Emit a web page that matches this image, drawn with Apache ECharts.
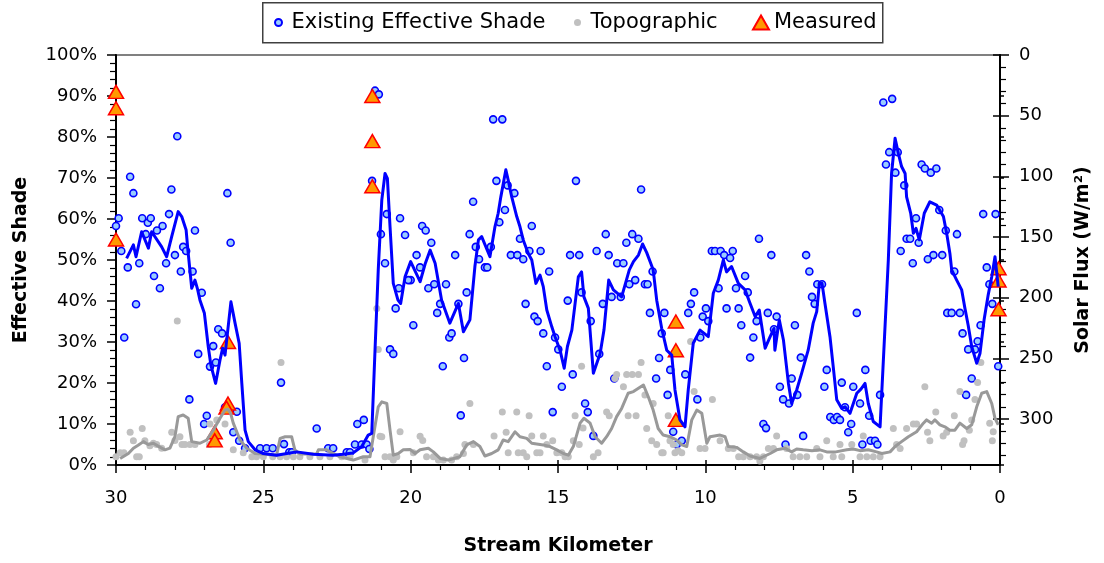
<!DOCTYPE html>
<html>
<head>
<meta charset="utf-8">
<script src="https://cdn.jsdelivr.net/npm/echarts@6/dist/echarts.min.js"></script>
<style>
  html, body { margin: 0; padding: 0; background: #fff; }
  #chart { width: 1104px; height: 563px; }
</style>
</head>
<body>
<div id="chart"></div>
<script>
// Tick values for the three axes
const kmTicks = [0, 5, 10, 15, 20, 25, 30];
const shadeTicks = [0, 10, 20, 30, 40, 50, 60, 70, 80, 90, 100];
const fluxTicks = [0, 50, 100, 150, 200, 250, 300];
const fluxMinorTicks = [10, 20, 30, 40, 60, 70, 80, 90, 110, 120, 130, 140, 160, 170, 180, 190,
  210, 220, 230, 240, 260, 270, 280, 290, 310, 320, 330];
const fluxMax = 338;

// Existing effective shade, sampled points [stream km, shade %]
const effectiveShade = [
  [27.92,80.2],[29.52,70.3],[29.41,66.3],[28.12,67.2],[26.22,66.3],[29.91,60.2],[30.00,58.3],[29.11,60.2],
  [28.92,59.1],[28.82,60.2],[28.20,61.2],[28.42,58.3],[28.61,57.2],[28.99,56.3],[27.32,57.2],[29.82,52.2],
  [27.72,53.2],[27.62,52.2],[28.00,51.2],[26.11,54.2],
  [21.21,91.3],[21.08,90.4],[21.31,69.3],[20.81,61.2],[21.01,56.3],[20.36,60.2],
  [29.60,48.2],[29.21,49.2],[28.30,49.2],[28.71,46.1],[28.51,43.1],[27.80,47.2],[27.40,47.2],[27.09,42.0],
  [29.32,39.2],[29.72,31.1],[27.21,27.1],[26.70,29.0],[26.53,33.1],[26.40,32.1],[26.81,24.0],[26.61,25.0],
  [27.51,16.0],[26.92,12.0],[27.01,10.0],[26.30,14.1],[25.90,13.0],[26.02,8.0],[25.82,5.9],[25.62,4.1],
  [25.11,4.1],[24.89,4.1],[24.68,4.1],[24.30,5.1],[24.40,20.1],[23.19,8.9],[24.12,3.1],[24.03,3.1],
  [22.80,4.1],[22.63,4.1],[22.17,3.1],[22.06,3.1],[21.89,5.0],[21.66,5.0],[21.49,5.0],[21.81,10.0],
  [21.59,11.0],[21.40,3.9],
  [20.87,49.2],[20.70,28.2],[20.59,27.1],[20.51,38.2],[20.40,43.1],
  [17.20,84.3],[16.89,84.3],[17.09,69.3],[16.71,68.2],[16.48,66.3],[16.80,62.2],[16.99,59.2],[20.19,56.1],
  [19.61,58.3],[19.49,57.2],[19.30,54.2],[19.80,51.2],[18.49,51.2],[17.88,64.2],[18.00,56.3],[17.79,53.2],
  [17.28,53.2],[16.60,51.2],[16.38,51.2],[16.29,55.2],[15.89,58.3],[15.97,52.2],[15.59,52.2],[14.39,69.3],
  [14.59,51.2],[14.28,51.2],[13.69,52.2],[13.28,51.2],[13.38,56.3],[12.68,54.2],[12.48,56.3],[12.27,55.2],
  [12.18,67.2],
  [20.00,45.1],[20.08,45.1],[19.68,48.2],[19.40,43.1],[19.20,44.1],[18.80,44.1],[19.00,39.3],[19.10,37.1],
  [18.38,39.3],[18.10,42.1],[19.91,34.1],[18.69,31.1],[18.61,32.1],[18.91,24.1],[18.19,26.1],[18.30,12.1],
  [17.68,50.2],[17.48,48.2],[17.40,48.2],[16.18,50.2],[15.30,47.2],[16.10,39.3],[15.80,36.2],[15.69,35.1],
  [15.50,32.1],[15.10,31.1],[14.99,28.2],[15.38,24.1],[14.87,19.1],[14.50,22.1],[14.67,40.1],[14.20,42.1],
  [13.89,35.1],[13.60,27.1],[13.48,39.3],[13.18,41.0],[12.99,49.2],[12.78,49.2],[12.87,41.0],[12.58,44.1],
  [12.38,45.1],[12.05,44.1],[11.96,44.1],[11.79,47.2],[11.88,37.1],[11.39,37.1],[11.48,32.1],[11.57,26.1],
  [11.19,23.2],[11.67,21.1],[13.09,21.1],[11.28,17.1],[15.18,12.9],[14.08,15.0],[13.99,12.9],[13.80,7.1],
  [11.09,8.1],[10.97,5.0],
  [3.96,88.4],[3.66,89.3],[3.76,76.3],[3.47,76.3],[3.87,73.3],[3.55,71.3],[3.25,68.2],[2.66,73.3],
  [2.55,72.3],[2.35,71.3],[2.16,72.3],[2.06,62.2],[1.84,57.2],[1.46,56.3],[2.85,60.2],[3.17,55.2],
  [3.05,55.2],[2.76,54.2],[3.37,52.2],[2.45,50.2],[2.26,51.2],[1.96,51.2],[0.57,61.2],[0.15,61.2],
  [9.78,52.2],[9.67,52.2],[9.48,52.2],[9.36,51.2],[9.07,52.2],[9.16,50.5],[8.18,55.2],[7.76,51.2],
  [6.58,51.2],[2.96,49.2],
  [6.47,47.2],[6.20,44.1],[6.04,44.1],[6.38,41.0],[6.29,39.3],[8.65,46.1],[8.96,43.1],[9.55,43.1],
  [8.56,42.1],[10.38,42.1],[10.49,39.3],[10.58,37.1],[9.98,38.2],[10.09,36.2],[9.90,35.1],[9.28,38.2],
  [8.87,38.2],[8.78,34.1],[8.26,35.1],[8.37,31.1],[7.88,37.1],[7.58,36.2],[7.67,33.1],[6.96,34.1],
  [8.48,26.2],[6.76,26.2],[10.17,31.1],[10.68,22.1],[10.27,16.0],[7.47,19.1],[7.07,21.1],[7.36,16.0],
  [7.16,15.0],[6.88,17.1],[5.88,23.2],[5.37,20.1],[5.96,19.1],[4.86,37.1],[4.57,23.2],[4.98,19.1],
  [4.75,15.0],[4.07,17.1],[4.44,12.0],[5.26,14.1],[5.76,11.7],[5.64,11.0],[5.53,11.7],[5.43,11.0],
  [5.05,10.0],[5.15,8.0],[8.03,10.0],[7.94,9.0],[10.80,5.9],[7.28,5.0],[6.68,7.1],[4.67,5.0],
  [4.39,5.9],[4.24,5.9],[4.16,5.0],
  [1.79,37.1],[1.64,37.1],[1.36,37.1],[1.55,47.2],[1.27,32.1],[1.08,28.2],[0.85,28.2],[0.76,30.2],
  [0.66,34.1],[0.96,21.1],[1.15,17.1],[0.45,48.2],[0.36,44.1],[0.26,39.3],[0.06,24.1]
];

// Topographic shade, sampled points [stream km, shade %]
const topographic = [
  [27.92,35.1],[29.52,8.0],[29.41,5.9],[29.11,8.9],[29.02,5.9],[28.73,5.3],[28.62,5.0],[28.85,4.7],
  [28.45,4.1],[28.11,8.0],[28.00,6.0],[27.83,6.9],[30.00,2.0],[29.86,3.0],[29.73,3.0],[29.30,2.0],
  [29.21,2.0],[27.76,5.0],[27.66,5.0],[27.49,5.0],[27.32,5.0],[24.40,25.0],[26.81,10.0],[26.58,11.0],
  [26.30,10.0],[26.70,6.0],[26.83,5.0],[26.02,3.7],[25.68,3.0],[25.39,2.0],[25.23,2.0],[25.00,2.0],
  [24.68,2.0],[24.43,2.0],[24.21,2.0],[23.98,2.0],[23.76,2.0],[23.42,2.0],[23.08,2.0],[22.74,2.0],
  [22.34,2.0],[22.06,2.0],[21.55,1.2],[21.15,38.2],[21.10,28.2],[20.98,6.9],[20.87,2.0],[20.70,2.0],
  [20.47,2.0],[20.36,8.1],[21.04,7.0],[20.59,1.2],[19.68,7.0],[19.59,6.0],[19.91,3.0],[19.46,2.0],
  [19.23,2.0],[19.06,1.2],[18.89,1.2],[18.61,1.2],[18.44,2.0],[18.21,2.8],[17.99,15.0],[18.16,5.0],
  [17.87,5.0],[17.17,7.1],[16.89,12.9],[16.76,8.0],[16.69,3.0],[16.40,12.9],[16.35,3.0],[16.18,3.0],
  [16.06,2.0],[15.98,12.0],[15.89,7.1],[15.72,3.0],[15.61,3.0],[15.50,7.1],[15.38,5.0],[15.18,5.9],
  [15.04,3.0],[14.87,3.0],[14.76,2.0],[14.65,2.0],[14.42,12.0],[14.20,24.1],[14.28,5.0],[14.48,5.9],
  [14.15,9.0],[13.80,2.0],[13.64,3.0],[13.35,12.9],[13.26,12.0],[13.07,21.1],[13.01,22.1],[12.67,22.1],
  [12.48,22.1],[12.27,22.1],[12.78,19.1],[12.18,25.0],[12.62,12.0],[12.35,12.0],[12.05,17.1],[11.77,15.0],
  [11.99,8.9],[11.82,5.9],[11.65,5.0],[11.48,3.0],[11.26,12.0],[11.20,5.9],[11.03,3.0],[10.92,3.5],
  [10.50,30.1],[10.38,17.9],[9.76,16.0],[11.43,3.0],[11.09,5.0],[10.80,3.0],[10.18,4.0],[10.01,4.0],
  [9.50,5.9],[9.22,4.0],[9.05,4.0],[8.87,2.0],[8.71,2.0],[8.48,2.0],[8.26,2.0],[8.03,2.0],
  [8.15,1.0],[7.58,7.1],[7.86,4.0],[7.69,4.0],[7.24,4.0],[7.02,2.0],[6.79,2.0],[6.56,2.0],
  [6.22,4.0],[6.11,2.0],[5.88,5.9],[5.66,2.0],[5.43,5.0],[5.37,2.0],[5.03,5.0],[4.64,7.1],
  [4.75,2.0],[4.52,2.0],[4.30,2.0],[4.07,2.0],[3.62,8.9],[3.51,5.0],[3.39,4.0],[3.17,8.9],
  [2.94,10.0],[2.83,10.0],[2.55,19.1],[2.46,8.0],[2.38,5.9],[2.18,12.9],[1.93,7.1],[1.81,8.0],
  [1.55,12.0],[1.36,17.9],[1.27,5.0],[1.22,5.9],[0.96,11.0],[0.85,16.0],[0.76,20.1],[0.65,25.0],
  [0.35,10.2],[0.23,8.1],[0.26,5.9],[1.04,8.5]
];

// Field measurements [stream km, shade %]
const measured = [
  [30.0,91],[30.0,87],[30.0,55],[21.3,90],[21.3,79],[21.3,68],[26.2,30],[26.2,15],[26.25,14],
  [26.65,8],[26.65,6],[11.0,35],[11.0,28],[11.0,11],[0.05,48],[0.05,45],[0.05,38]
];

// Smoothed existing shade profile [stream km, shade %]
const shadeProfile = [
  [29.64,50.4],[29.41,53.7],[29.32,50.8],[29.13,56.9],[28.90,52.9],[28.79,56.9],[28.45,53.2],[28.28,50.8],
  [28.11,55.7],[27.89,61.8],[27.77,60.6],[27.62,57.3],[27.56,52.4],[27.43,43.1],[27.32,45.1],[27.24,43.1],
  [27.15,40.2],[27.00,37.0],[26.87,28.9],[26.78,24.4],[26.62,19.9],[26.47,25.6],[26.38,28.5],[26.30,26.8],
  [26.10,39.8],[25.96,34.6],[25.82,29.7],[25.73,19.9],[25.62,8.5],[25.51,5.7],[25.28,3.7],[25.00,2.8],
  [24.55,2.4],[24.20,2.8],[23.87,3.2],[23.30,2.6],[22.63,2.4],[22.30,2.6],[21.96,2.9],[21.66,4.5],
  [21.44,7.3],[21.32,7.7],[21.21,28.0],[21.10,47.6],[20.98,64.6],[20.87,71.1],[20.79,69.9],[20.70,58.1],
  [20.59,44.3],[20.43,40.2],[20.34,39.4],[20.19,45.9],[20.00,49.6],[19.68,44.7],[19.51,49.0],[19.34,52.4],
  [19.17,49.2],[18.95,40.2],[18.67,34.6],[18.38,39.4],[18.21,32.5],[17.99,35.4],[17.82,48.4],[17.70,54.9],
  [17.59,55.7],[17.31,50.8],[17.14,58.1],[17.03,61.4],[16.94,65.4],[16.77,72.0],[16.69,69.5],[16.57,65.4],
  [16.40,60.6],[16.29,58.1],[16.18,54.9],[16.01,51.6],[15.89,50.0],[15.75,44.3],[15.61,46.3],[15.50,43.5],
  [15.38,37.8],[15.21,33.7],[15.10,31.3],[14.93,28.0],[14.79,23.6],[14.68,28.9],[14.53,32.9],[14.31,45.9],
  [14.20,47.1],[14.12,41.0],[13.97,38.2],[13.80,22.4],[13.57,27.2],[13.44,32.9],[13.28,45.1],[13.12,42.7],
  [12.84,41.0],[12.58,47.6],[12.44,49.6],[12.27,51.2],[12.13,53.9],[11.99,51.8],[11.77,47.6],[11.65,40.2],
  [11.48,33.3],[11.31,28.0],[11.14,26.8],[11.03,18.3],[10.86,11.0],[10.69,9.3],[10.58,18.3],[10.41,29.7],
  [10.18,32.9],[9.90,31.3],[9.73,41.9],[9.56,45.1],[9.39,50.0],[9.28,47.1],[9.11,48.4],[8.88,44.3],
  [8.65,42.7],[8.48,39.4],[8.31,36.2],[8.17,37.8],[7.97,28.5],[7.80,31.3],[7.67,33.3],[7.64,28.0],
  [7.49,35.4],[7.35,30.5],[7.18,19.9],[7.07,15.0],[6.90,18.3],[6.73,22.4],[6.51,28.0],[6.34,34.6],
  [6.22,37.4],[6.13,44.3],[6.04,44.3],[5.94,39.4],[5.77,31.3],[5.66,24.0],[5.54,15.9],[5.37,13.8],
  [5.26,14.2],[5.09,12.6],[4.86,17.5],[4.72,18.5],[4.58,19.9],[4.47,15.0],[4.30,10.6],[4.07,9.3],
  [3.79,50.0],[3.68,71.1],[3.56,79.7],[3.45,76.0],[3.34,72.8],[3.22,71.1],[3.17,65.4],[3.03,61.4],
  [2.94,56.5],[2.85,57.7],[2.74,54.9],[2.57,61.4],[2.38,64.2],[2.15,63.4],[1.92,60.6],[1.81,56.5],
  [1.70,51.6],[1.64,47.6],[1.47,45.1],[1.30,42.7],[1.19,38.2],[1.08,34.1],[0.96,28.9],[0.79,24.8],
  [0.68,27.2],[0.54,35.4],[0.40,41.5],[0.28,45.9],[0.17,50.8],[0.06,43.5]
];

// Smoothed topographic shade profile [stream km, shade %]
const topoProfile = [
  [29.86,1.6],[29.58,2.8],[29.41,4.1],[29.25,4.8],[29.07,5.7],[28.91,5.0],[28.73,5.3],[28.57,4.6],
  [28.34,3.7],[28.17,4.1],[28.00,6.9],[27.89,11.8],[27.72,12.2],[27.55,11.4],[27.43,5.7],[27.15,5.3],
  [26.92,6.1],[26.70,8.5],[26.47,11.4],[26.30,13.4],[26.20,13.6],[26.11,12.6],[26.02,10.2],[25.79,6.1],
  [25.56,4.1],[25.28,2.8],[24.55,2.4],[24.43,6.5],[24.26,6.9],[24.04,6.9],[23.93,3.7],[23.76,2.7],
  [23.19,2.7],[23.13,3.7],[22.85,3.7],[22.68,3.0],[22.40,2.0],[21.95,1.2],[21.61,2.0],[21.38,2.0],
  [21.27,6.9],[21.10,14.2],[20.98,15.4],[20.81,15.0],[20.70,8.5],[20.59,2.4],[20.42,2.8],[20.25,3.7],
  [20.02,3.8],[19.85,2.8],[19.68,3.7],[19.40,4.1],[19.23,3.2],[19.00,1.6],[18.72,1.2],[18.33,2.0],
  [18.10,4.9],[17.87,5.7],[17.65,4.5],[17.48,2.2],[17.25,2.8],[17.03,3.7],[16.86,6.1],[16.69,5.7],
  [16.46,8.1],[16.29,6.9],[16.06,6.5],[15.89,5.3],[15.50,4.9],[15.27,4.5],[15.04,3.7],[14.82,2.8],
  [14.65,2.4],[14.48,4.5],[14.25,10.2],[14.12,11.4],[13.91,10.2],[13.74,6.9],[13.52,5.3],[13.35,6.9],
  [13.18,8.9],[13.01,11.8],[12.84,13.8],[12.62,17.5],[12.44,17.9],[12.27,18.7],[12.10,19.5],[11.94,16.7],
  [11.77,13.4],[11.60,8.9],[11.43,7.3],[11.20,6.9],[10.97,6.1],[10.80,4.9],[10.63,4.5],[10.46,11.0],
  [10.29,13.4],[10.12,12.6],[9.95,5.3],[9.84,6.9],[9.50,7.3],[9.33,6.9],[9.22,4.5],[8.94,4.3],
  [8.71,3.2],[8.48,2.2],[8.15,1.6],[7.80,2.8],[7.58,3.7],[7.30,4.1],[7.07,3.2],[6.90,3.9],
  [6.68,3.7],[6.38,3.5],[6.11,3.7],[5.88,3.2],[5.57,3.2],[5.20,3.7],[4.98,3.9],[4.75,3.5],
  [4.47,3.7],[4.19,3.2],[4.01,2.8],[3.73,3.2],[3.56,4.5],[3.34,5.7],[3.11,6.9],[2.83,8.1],
  [2.60,10.2],[2.49,11.0],[2.32,10.2],[2.21,11.0],[2.04,9.8],[1.87,9.3],[1.70,8.5],[1.53,8.5],
  [1.36,10.2],[1.13,8.9],[0.96,9.8],[0.79,14.2],[0.62,17.5],[0.45,17.9],[0.28,15.0],[0.17,11.4],
  [0.06,9.8]
];

const FONT = 'DejaVu Sans';
const tickLabel = { color: '#000', fontFamily: FONT, fontSize: 18 };
const titleStyle = { color: '#000', fontFamily: FONT, fontSize: 19, fontWeight: 'bold' };
const legendText = { color: '#000', fontFamily: FONT, fontSize: 21 };

const chart = echarts.init(document.getElementById('chart'), null, { renderer: 'canvas' });

const hidden = { show: false };

chart.setOption({
  animation: false,
  backgroundColor: '#fff',
  grid: {
    left: 116, right: 104, top: 55, bottom: 98,
    show: true, borderColor: '#808080', borderWidth: 2, backgroundColor: 'transparent'
  },
  legend: [
    {
      data: ['Existing Effective Shade'], left: 274, top: 12, padding: 0,
      itemWidth: 16, itemHeight: 7, textStyle: legendText
    },
    {
      data: ['Topographic'], left: 574, top: 12, padding: 0,
      itemWidth: 16, itemHeight: 7, textStyle: legendText
    },
    {
      data: ['Measured'], left: 752, top: 12, padding: 0,
      itemWidth: 16, itemHeight: 14, textStyle: legendText
    }
  ],
  graphic: [{
    type: 'rect', left: 262, top: 2, z: 100, silent: true,
    shape: { width: 620, height: 40 },
    style: { fill: 'transparent', stroke: '#404040', lineWidth: 1.5 }
  }],
  xAxis: [
    {
      type: 'value', min: 0, max: 30, interval: 5, inverse: true,
      name: 'Stream Kilometer', nameLocation: 'middle', nameGap: 72, nameTextStyle: titleStyle,
      axisLine: { show: true, onZero: false, lineStyle: { color: '#000', width: 2 } },
      axisTick: { show: true, length: 8, lineStyle: { color: '#000', width: 1.5 } },
      minorTick: { show: true, splitNumber: 5, length: 5, lineStyle: { color: '#000', width: 1.2 } },
      axisLabel: { ...tickLabel, margin: 24, customValues: kmTicks },
      splitLine: hidden, minorSplitLine: hidden
    },
    {
      type: 'value', min: 0, max: 30, interval: 5, inverse: true, position: 'bottom',
      axisLine: hidden, axisLabel: hidden, splitLine: hidden,
      axisTick: { show: true, inside: true, length: 5, lineStyle: { color: '#000', width: 1.5 } }
    }
  ],
  yAxis: [
    {
      type: 'value', min: 0, max: 100, interval: 10, position: 'left',
      name: 'Effective Shade', nameLocation: 'middle', nameGap: 85, nameTextStyle: titleStyle,
      axisLine: { show: true, onZero: false, lineStyle: { color: '#000', width: 2 } },
      axisTick: { show: true, length: 9, lineStyle: { color: '#000', width: 1.5 } },
      minorTick: { show: true, splitNumber: 5, length: 6, lineStyle: { color: '#000', width: 1.2 } },
      axisLabel: { ...tickLabel, margin: 19, customValues: shadeTicks, formatter: v => v + '%' },
      splitLine: hidden, minorSplitLine: hidden
    },
    {
      type: 'value', min: 0, max: fluxMax, inverse: true, position: 'right',
      name: 'Solar Flux (W/m²)', nameLocation: 'middle', nameGap: 74, nameTextStyle: titleStyle,
      axisLine: { show: true, onZero: false, lineStyle: { color: '#000', width: 2 } },
      axisTick: { show: true, length: 9, customValues: fluxTicks, lineStyle: { color: '#000', width: 1.5 } },
      axisLabel: { ...tickLabel, margin: 19, customValues: fluxTicks },
      splitLine: hidden
    },
    {
      type: 'value', min: 0, max: 100, interval: 10, position: 'left',
      axisLine: hidden, axisLabel: hidden, splitLine: hidden,
      axisTick: { show: true, inside: true, length: 4, lineStyle: { color: '#000', width: 1.5 } }
    },
    {
      type: 'value', min: 0, max: fluxMax, inverse: true, position: 'right',
      axisLine: hidden, axisLabel: hidden, splitLine: hidden,
      axisTick: { show: true, length: 6, customValues: fluxMinorTicks, lineStyle: { color: '#000', width: 1.2 } }
    },
    {
      type: 'value', min: 0, max: fluxMax, inverse: true, position: 'right',
      axisLine: hidden, axisLabel: hidden, splitLine: hidden,
      axisTick: { show: true, inside: true, length: 7, customValues: fluxTicks, lineStyle: { color: '#000', width: 1.5 } }
    }
  ],
  series: [
    {
      name: 'Existing Effective Shade', type: 'scatter', data: effectiveShade, z: 2,
      symbol: 'circle', symbolSize: 7,
      itemStyle: { color: '#99ccff', borderColor: '#0000ff', borderWidth: 1.6, opacity: 1 }
    },
    {
      name: 'Topographic', type: 'scatter', data: topographic, z: 3,
      symbol: 'circle', symbolSize: 7,
      itemStyle: { color: '#c0c0c0', opacity: 1 }
    },
    {
      name: 'Measured', type: 'scatter', data: measured, z: 4,
      symbol: 'triangle', symbolSize: [15, 13],
      itemStyle: { color: '#ff9900', borderColor: '#ff0000', borderWidth: 1.5, opacity: 1 }
    },
    {
      name: 'Topographic Profile', type: 'line', data: topoProfile, z: 5,
      showSymbol: false, symbol: 'none', smooth: false,
      lineStyle: { color: '#999999', width: 3, join: 'round' }
    },
    {
      name: 'Shade Profile', type: 'line', data: shadeProfile, z: 6,
      showSymbol: false, symbol: 'none', smooth: false,
      lineStyle: { color: '#0000ff', width: 3, join: 'round' }
    }
  ]
});
</script>
</body>
</html>
